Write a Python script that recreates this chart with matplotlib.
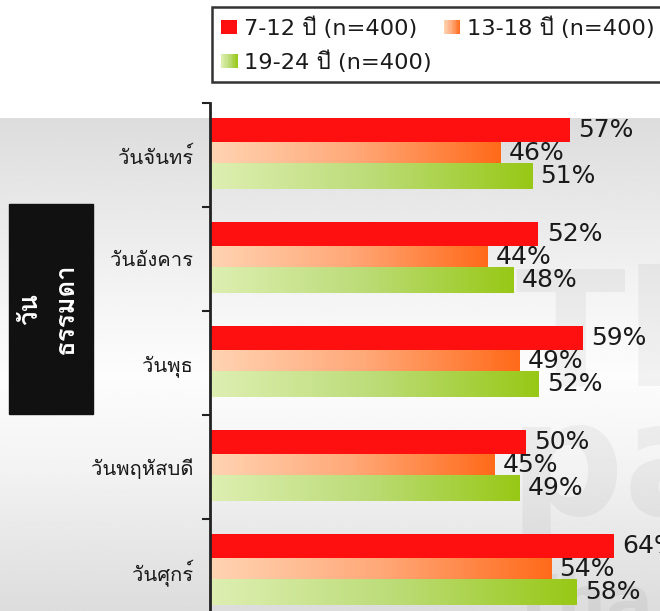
import numpy as np
import matplotlib
matplotlib.use("Agg")
import matplotlib.pyplot as plt
from matplotlib import font_manager
from matplotlib.ft2font import FT2Font
from matplotlib.colors import LinearSegmentedColormap
from matplotlib.patches import Rectangle
from matplotlib.legend_handler import HandlerBase


categories = ["วันจันทร์", "วันอังคาร", "วันพุธ", "วันพฤหัสบดี", "วันศุกร์"]
age_7_12 = [57, 52, 59, 50, 64]
age_13_18 = [46, 44, 49, 45, 54]
age_19_24 = [51, 48, 52, 49, 58]
series_labels = ["7-12 ปี (n=400)", "13-18 ปี (n=400)", "19-24 ปี (n=400)"]
group_label = "วัน\nธรรมดา"


def thai_family():
    # first installed family that has Thai glyphs
    for f in font_manager.fontManager.ttflist:
        try:
            if 0x0E27 in FT2Font(f.fname).get_charmap():
                return f.name
        except Exception:
            pass
    return "DejaVu Sans"


thai = thai_family()
fonts = ["DejaVu Sans", thai]

red = "#ff1010"
orange_cmap = LinearSegmentedColormap.from_list("orange", ["#ffd4b3", "#ffa878", "#ff6a1a"])
green_cmap = LinearSegmentedColormap.from_list("green", ["#deefb2", "#bcdc78", "#98c816"])

fig = plt.figure(figsize=(6.6, 6.11), dpi=100)
W, H = 660, 611

# slide background
bg = fig.add_axes([0, 0, 1, (H - 118) / H], zorder=-2)
rows = np.linspace(0, 1, 200)
shade = np.interp(rows, [0, 0.35, 0.52, 0.7, 1.0], [0.865, 0.955, 0.99, 0.955, 0.865])
bg.imshow(shade[:, None], cmap="gray", vmin=0, vmax=1, aspect="auto", extent=[0, 1, 0, 1])
bg.axis("off")

# faint watermark
wm = dict(fontweight="bold", color="black", alpha=0.045, ha="left", va="baseline", zorder=-1)
fig.text(515 / W, 1 - 385 / H, "Th", fontsize=116, **wm)
fig.text(508 / W, 1 - 515 / H, "pa", fontsize=116, **wm)
fig.text(510 / W, 1 - 625 / H, "Tha", fontsize=50, **wm)

ax = fig.add_axes([210 / W, -12 / H, 450 / W, 520 / H])
ax.patch.set_alpha(0)

y = np.arange(len(categories))
offsets = [-0.24, -0.021, 0.205]
heights = [0.231, 0.209, 0.243]
series = [age_7_12, age_13_18, age_19_24]
cmaps = [None, orange_cmap, green_cmap]

grad = np.linspace(0, 1, 256)[None, :]
for vals, off, h, cmap in zip(series, offsets, heights, cmaps):
    if cmap is None:
        bars = ax.barh(y + off, vals, height=h, color=red, zorder=2)
    else:
        bars = ax.barh(y + off, vals, height=h, color="none", zorder=2)
        for b in bars:
            x0, y0 = b.get_x(), b.get_y()
            ax.imshow(grad, cmap=cmap, aspect="auto", zorder=2,
                      extent=[x0, x0 + b.get_width(), y0 + b.get_height(), y0])
    for yy, v in zip(y + off, vals):
        ax.annotate(f"{v}%", (v, yy), xytext=(6, 0), textcoords="offset points",
                    va="center", ha="left", fontsize=18, color="#1a1a1a",
                    family="DejaVu Sans", zorder=3)

ax.set_xlim(0, 71.25)
ax.set_ylim(len(categories) - 0.5, -0.5)

ax.set_yticks(np.arange(-0.5, len(categories), 1))
ax.set_yticklabels([])
ax.set_yticks(y, minor=True)
ax.set_yticklabels(categories, minor=True, fontsize=14.5, family=fonts, color="#1a1a1a")
ax.tick_params(axis="y", which="major", direction="out", length=6, width=1.5, color="#222222")
ax.tick_params(axis="y", which="minor", length=0, pad=12)
ax.set_xticks([])

for side in ["top", "right", "bottom"]:
    ax.spines[side].set_visible(False)
ax.spines["left"].set_linewidth(2)
ax.spines["left"].set_color("#222222")

# black side label
fig.patches.append(Rectangle((9 / W, 1 - 414 / H), 84 / W, 210 / H,
                             transform=fig.transFigure, color="#111111", zorder=1))
fig.text(48 / W, 1 - 309 / H, group_label, rotation=90, ha="center", va="center",
         color="white", fontsize=18.5, fontweight="bold", family=[thai, "DejaVu Sans"],
         multialignment="center", linespacing=1.65, zorder=2)


class GradientHandler(HandlerBase):
    def __init__(self, cmap):
        super().__init__()
        self.cmap = cmap

    def create_artists(self, legend, orig_handle, xdescent, ydescent, width, height, fontsize, trans):
        n = 12
        parts = []
        for i in range(n):
            parts.append(Rectangle((-xdescent + width * i / n, -ydescent), width / n + 0.3, height,
                                   facecolor=self.cmap((i + 0.5) / n), edgecolor="none", transform=trans))
        return parts


h1 = Rectangle((0, 0), 1, 1, facecolor=red, edgecolor="none")
h2 = Rectangle((0, 0), 1, 1)
h3 = Rectangle((0, 0), 1, 1)
# column-major fill: 7-12 and 19-24 in column one, 13-18 in column two
leg = fig.legend([h1, h3, h2], [series_labels[0], series_labels[2], series_labels[1]], ncol=2,
                 loc="upper left", bbox_to_anchor=(212 / W, 1 - 7 / H), bbox_transform=fig.transFigure,
                 borderaxespad=0, prop={"family": fonts, "size": 16.2}, frameon=True, fancybox=False,
                 edgecolor="black", handlelength=0.7, handleheight=0.6,
                 handletextpad=0.3, columnspacing=0.55, borderpad=0.42, labelspacing=0.5,
                 handler_map={h2: GradientHandler(orange_cmap), h3: GradientHandler(green_cmap)})
leg.get_frame().set_linewidth(1.8)
leg.get_frame().set_facecolor("white")
for t in leg.get_texts():
    t.set_color("#1a1a1a")

fig.savefig("out.png", dpi=100)
